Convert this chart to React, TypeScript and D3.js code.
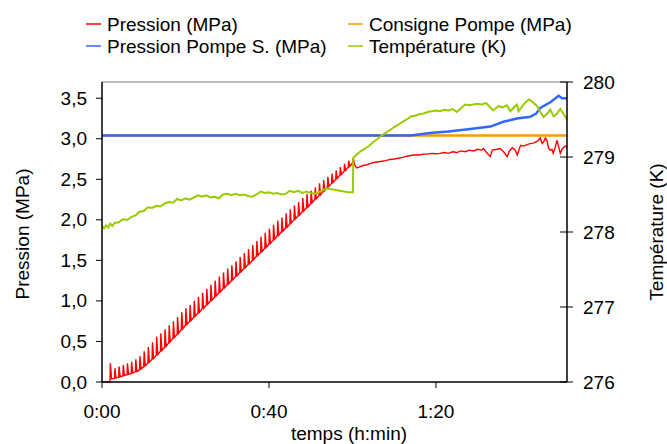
import React from "react";
import * as d3 from "d3";

// ---- data (time in minutes) ----
const timeTicks = [0, 40, 80];
const pressureTicks = [0, 0.5, 1, 1.5, 2, 2.5, 3, 3.5];
const tempTicks = [276, 277, 278, 279, 280];

const pression: [number, number][] = [
  [0, 0], [1.5, 0], [1.9, 0], [2.0, 0.23], [2.3, 0.04],
  [3.0, 0.045], [3.1, 0.17], [3.35, 0.05],
  [4.0, 0.06], [4.1, 0.19], [4.35, 0.065],
  [5.0, 0.075], [5.1, 0.21], [5.35, 0.08],
  [6.0, 0.09], [6.1, 0.23], [6.35, 0.095],
  [7.0, 0.105], [7.1, 0.25], [7.35, 0.11],
  [8.0, 0.125], [8.1, 0.28], [8.35, 0.13],
  [9.0, 0.15], [9.1, 0.32], [9.35, 0.16],
  [10, 0.19], [10.1, 0.38], [10.35, 0.2],
  [11, 0.235], [11.1, 0.43], [11.35, 0.245],
  [12, 0.28], [12.1, 0.49], [12.35, 0.29],
  [13, 0.33], [13.1, 0.56], [13.35, 0.34],
  [14, 0.38], [14.1, 0.6], [14.35, 0.39],
  [15, 0.43], [15.1, 0.65], [15.35, 0.44],
  [16, 0.485], [16.1, 0.7], [16.35, 0.495],
  [17, 0.54], [17.1, 0.75], [17.35, 0.55],
  [18, 0.59], [18.1, 0.8], [18.35, 0.6],
  [19, 0.645], [19.1, 0.86], [19.35, 0.655],
  [20, 0.7], [20.1, 0.91], [20.35, 0.71],
  [21, 0.75], [21.1, 0.95], [21.35, 0.76],
  [22, 0.8], [22.1, 1.0], [22.35, 0.81],
  [23, 0.85], [23.1, 1.05], [23.35, 0.86],
  [24, 0.9], [24.1, 1.1], [24.35, 0.91],
  [25, 0.95], [25.1, 1.15], [25.35, 0.96],
  [26, 1.0], [26.1, 1.2], [26.35, 1.01],
  [27, 1.05], [27.1, 1.25], [27.35, 1.06],
  [28, 1.1], [28.1, 1.3], [28.35, 1.11],
  [29, 1.15], [29.1, 1.35], [29.35, 1.16],
  [30, 1.2], [30.1, 1.4], [30.35, 1.21],
  [31, 1.25], [31.1, 1.44], [31.35, 1.26],
  [32, 1.3], [32.1, 1.49], [32.35, 1.31],
  [33, 1.35], [33.1, 1.54], [33.35, 1.36],
  [34, 1.4], [34.1, 1.59], [34.35, 1.41],
  [35, 1.45], [35.1, 1.64], [35.35, 1.46],
  [36, 1.5], [36.1, 1.69], [36.35, 1.51],
  [37, 1.55], [37.1, 1.74], [37.35, 1.56],
  [38, 1.6], [38.1, 1.79], [38.35, 1.61],
  [39, 1.65], [39.1, 1.84], [39.35, 1.66],
  [40, 1.7], [40.1, 1.89], [40.35, 1.71],
  [41, 1.75], [41.1, 1.94], [41.35, 1.76],
  [42, 1.8], [42.1, 1.99], [42.35, 1.81],
  [43, 1.85], [43.1, 2.03], [43.35, 1.86],
  [44, 1.9], [44.1, 2.08], [44.35, 1.91],
  [45, 1.95], [45.1, 2.13], [45.35, 1.96],
  [46, 2.0], [46.1, 2.18], [46.35, 2.01],
  [47, 2.05], [47.1, 2.22], [47.35, 2.06],
  [48, 2.1], [48.1, 2.27], [48.35, 2.11],
  [49, 2.15], [49.1, 2.32], [49.35, 2.16],
  [50, 2.2], [50.1, 2.36], [50.35, 2.21],
  [51, 2.25], [51.1, 2.4], [51.35, 2.26],
  [52, 2.3], [52.1, 2.45], [52.35, 2.31],
  [53, 2.35], [53.1, 2.49], [53.35, 2.36],
  [54, 2.4], [54.1, 2.53], [54.35, 2.41],
  [55, 2.45], [55.1, 2.57], [55.35, 2.46],
  [56, 2.5], [56.1, 2.61], [56.35, 2.51],
  [57, 2.55], [57.1, 2.65], [57.35, 2.56],
  [58, 2.6], [58.1, 2.69], [58.35, 2.61],
  [59, 2.65], [59.1, 2.73], [59.35, 2.66],
  [60.0, 2.7], [60.2, 2.76], [60.5, 2.68], [61.0, 2.64], [61.6, 2.65],
  [62.5, 2.67], [63.5, 2.68], [64.5, 2.7], [65.5, 2.71], [66.7, 2.72],
  [68, 2.73], [69, 2.745], [70, 2.75], [71, 2.76], [72, 2.77], [73, 2.785],
  [74.7, 2.8], [76, 2.8], [77, 2.81], [78, 2.81], [79, 2.82], [80, 2.815],
  [81, 2.82], [82, 2.83], [83, 2.82], [84, 2.84], [85, 2.83], [86, 2.85],
  [87, 2.84], [88, 2.86], [89, 2.85], [90, 2.87], [91, 2.86], [91.4, 2.88],
  [92, 2.84], [93, 2.78], [93.5, 2.86], [94.7, 2.87], [95.4, 2.88],
  [96.2, 2.84], [97.1, 2.78], [97.6, 2.85], [98.3, 2.89], [99, 2.86],
  [99.5, 2.8], [100, 2.88], [100.3, 2.92], [101, 2.91], [102, 2.93],
  [102.6, 2.94], [103.5, 2.95], [104.3, 2.97], [105, 3.01], [105.3, 2.96],
  [105.5, 2.94], [106, 2.98], [106.2, 3.01], [106.6, 2.98], [107, 2.88],
  [107.4, 2.86], [107.8, 2.87], [108.1, 2.82], [108.5, 2.88], [109, 2.98],
  [109.4, 2.9], [109.8, 2.82], [110.3, 2.88], [111, 2.91], [111.4, 2.9],
];

const consigne: [number, number][] = [
  [0, 3.04], [111.4, 3.04],
];

const pompeS: [number, number][] = [
  [0, 3.04], [74, 3.04], [78.6, 3.07], [83, 3.09], [88.2, 3.12], [93, 3.15],
  [96.2, 3.21], [99.4, 3.25], [102.6, 3.27], [104, 3.31], [105, 3.38],
  [107.4, 3.45], [109.4, 3.53], [110.2, 3.5], [111.4, 3.5],
];

const temperature: [number, number][] = [
  [0, 278.08], [0.5, 278.05], [1, 278.09], [1.5, 278.06], [2, 278.11],
  [2.5, 278.08], [3, 278.12], [4, 278.13], [5, 278.17], [6, 278.16],
  [7, 278.2], [8, 278.22], [9, 278.27], [10, 278.28], [11, 278.33],
  [12, 278.32], [13, 278.35], [14, 278.34], [15, 278.38], [16, 278.4],
  [17, 278.39], [18, 278.44], [19, 278.42], [20, 278.45], [21, 278.43],
  [22, 278.46], [23, 278.49], [24, 278.47], [25, 278.49], [26, 278.46],
  [27, 278.47], [28, 278.45], [29, 278.5], [30, 278.51], [31, 278.49],
  [32, 278.51], [33, 278.49], [34, 278.5], [35, 278.48], [36, 278.47],
  [37, 278.5], [38, 278.54], [39, 278.52], [40, 278.53], [41, 278.51],
  [42, 278.52], [43, 278.5], [44, 278.51], [45, 278.55], [46, 278.53],
  [47, 278.55], [48, 278.52], [49, 278.54], [50, 278.52], [51, 278.51],
  [52, 278.53], [53, 278.56], [54, 278.58], [55, 278.57], [56, 278.56],
  [57, 278.55], [58, 278.54], [59, 278.53], [60.1, 278.53], [60.2, 278.99],
  [61, 279.03], [62, 279.08], [63, 279.11], [64, 279.15], [65, 279.2],
  [66, 279.24], [67, 279.29], [68, 279.32], [69, 279.36], [70, 279.4],
  [71, 279.43], [72, 279.47], [73, 279.5], [74, 279.54], [75, 279.55],
  [76, 279.57], [77, 279.58], [78, 279.6], [79, 279.61], [80, 279.62],
  [81, 279.61], [82, 279.63], [83, 279.62], [84, 279.64], [85, 279.6],
  [86, 279.65], [87, 279.7], [88, 279.69], [89, 279.7], [90, 279.71],
  [91, 279.7], [92, 279.72], [93, 279.66], [93.7, 279.62], [95, 279.68],
  [96, 279.66], [97, 279.69], [97.8, 279.61], [99, 279.68], [99.4, 279.7],
  [99.8, 279.61], [101, 279.7], [102.3, 279.77], [103, 279.74],
  [104.2, 279.68], [105, 279.6], [105.8, 279.53], [107, 279.6],
  [107.4, 279.63], [108.2, 279.54], [109, 279.58], [109.8, 279.64],
  [110.5, 279.58], [111.4, 279.5],
];

const legendItems = [
  { label: "Pression (MPa)", color: "#ff0000" },
  { label: "Consigne Pompe (MPa)", color: "#ff9900" },
  { label: "Pression Pompe S. (MPa)", color: "#3366ff" },
  { label: "Température (K)", color: "#99cc00" },
];

const W = 667;
const H = 444;
const L = 102;
const R = 567;
const T = 82;
const B = 382;
const FONT = "'Liberation Sans', Arial, sans-serif";
const FS = 19;

const fmtTime = (m: number) => `${Math.floor(m / 60)}:${String(m % 60).padStart(2, "0")}`;
const fmtP = (v: number) => d3.format(".1f")(v).replace(".", ",");

export default function App() {
  const x = d3.scaleLinear().domain([0, 111.4]).range([L, R]);
  const yP = d3.scaleLinear().domain([0, 3.7]).range([B, T]);
  const yT = d3.scaleLinear().domain([276, 280]).range([B, T]);

  const lineP = d3.line<[number, number]>().x((d) => x(d[0])).y((d) => yP(d[1]));
  const lineT = d3.line<[number, number]>().x((d) => x(d[0])).y((d) => yT(d[1]));

  const legendPos = [
    { lx: 86, ty: 24 },
    { lx: 348, ty: 24 },
    { lx: 86, ty: 46 },
    { lx: 348, ty: 46 },
  ];

  return (
    <svg
      width={W}
      height={H}
      style={{ position: "absolute", left: 0, top: 0, background: "#fff" }}
      fontFamily={FONT}
    >
      <rect x={0} y={0} width={W} height={H} fill="#fff" />

      {/* legend */}
      {legendItems.map((it, i) => (
        <g key={it.label}>
          <line
            x1={legendPos[i].lx}
            x2={legendPos[i].lx + 15}
            y1={legendPos[i].ty}
            y2={legendPos[i].ty}
            stroke={it.color}
            strokeWidth={1.5}
          />
          <text
            x={legendPos[i].lx + 21}
            y={legendPos[i].ty}
            dominantBaseline="central"
            fontSize={FS}
            fill="#000"
          >
            {it.label}
          </text>
        </g>
      ))}

      {/* top border */}
      <line x1={L} x2={R} y1={T} y2={T} stroke="#a6a6a6" strokeWidth={1.5} />

      {/* series */}
      <path d={lineP(pression) || ""} fill="none" stroke="#ff0000" strokeWidth={1.4} />
      <path d={lineP(consigne) || ""} fill="none" stroke="#ff9900" strokeWidth={2.5} />
      <path d={lineP(pompeS) || ""} fill="none" stroke="#3366ff" strokeWidth={2.5} />
      <path d={lineT(temperature) || ""} fill="none" stroke="#99cc00" strokeWidth={2} />

      {/* left axis */}
      <line x1={L} x2={L} y1={T} y2={B} stroke="#000" strokeWidth={1.5} />
      {pressureTicks.map((v) => (
        <g key={v}>
          <line x1={L - 6} x2={L} y1={yP(v)} y2={yP(v)} stroke="#000" strokeWidth={1} />
          <text x={L - 15} y={yP(v)} textAnchor="end" dominantBaseline="central" fontSize={FS}>
            {fmtP(v)}
          </text>
        </g>
      ))}

      {/* right axis */}
      <line x1={R} x2={R} y1={T} y2={B} stroke="#000" strokeWidth={1.5} />
      {tempTicks.map((v) => (
        <g key={v}>
          <line x1={R - 7} x2={R + 6} y1={yT(v)} y2={yT(v)} stroke="#000" strokeWidth={1} />
          <text x={R + 16} y={yT(v)} textAnchor="start" dominantBaseline="central" fontSize={FS}>
            {v}
          </text>
        </g>
      ))}

      {/* bottom axis */}
      <line x1={L} x2={R} y1={B} y2={B} stroke="#000" strokeWidth={1.5} />
      {timeTicks.map((v) => (
        <g key={v}>
          <line x1={x(v)} x2={x(v)} y1={B} y2={B + 6} stroke="#000" strokeWidth={1} />
          <text x={x(v)} y={411} textAnchor="middle" dominantBaseline="central" fontSize={FS}>
            {fmtTime(v)}
          </text>
        </g>
      ))}

      {/* axis titles */}
      <text x={349} y={433} textAnchor="middle" dominantBaseline="central" fontSize={FS}>
        temps (h:min)
      </text>
      <text
        transform={`translate(22,234) rotate(-90)`}
        textAnchor="middle"
        dominantBaseline="central"
        fontSize={FS}
      >
        Pression (MPa)
      </text>
      <text
        transform={`translate(656,232) rotate(-90)`}
        textAnchor="middle"
        dominantBaseline="central"
        fontSize={FS}
      >
        Température (K)
      </text>
    </svg>
  );
}
